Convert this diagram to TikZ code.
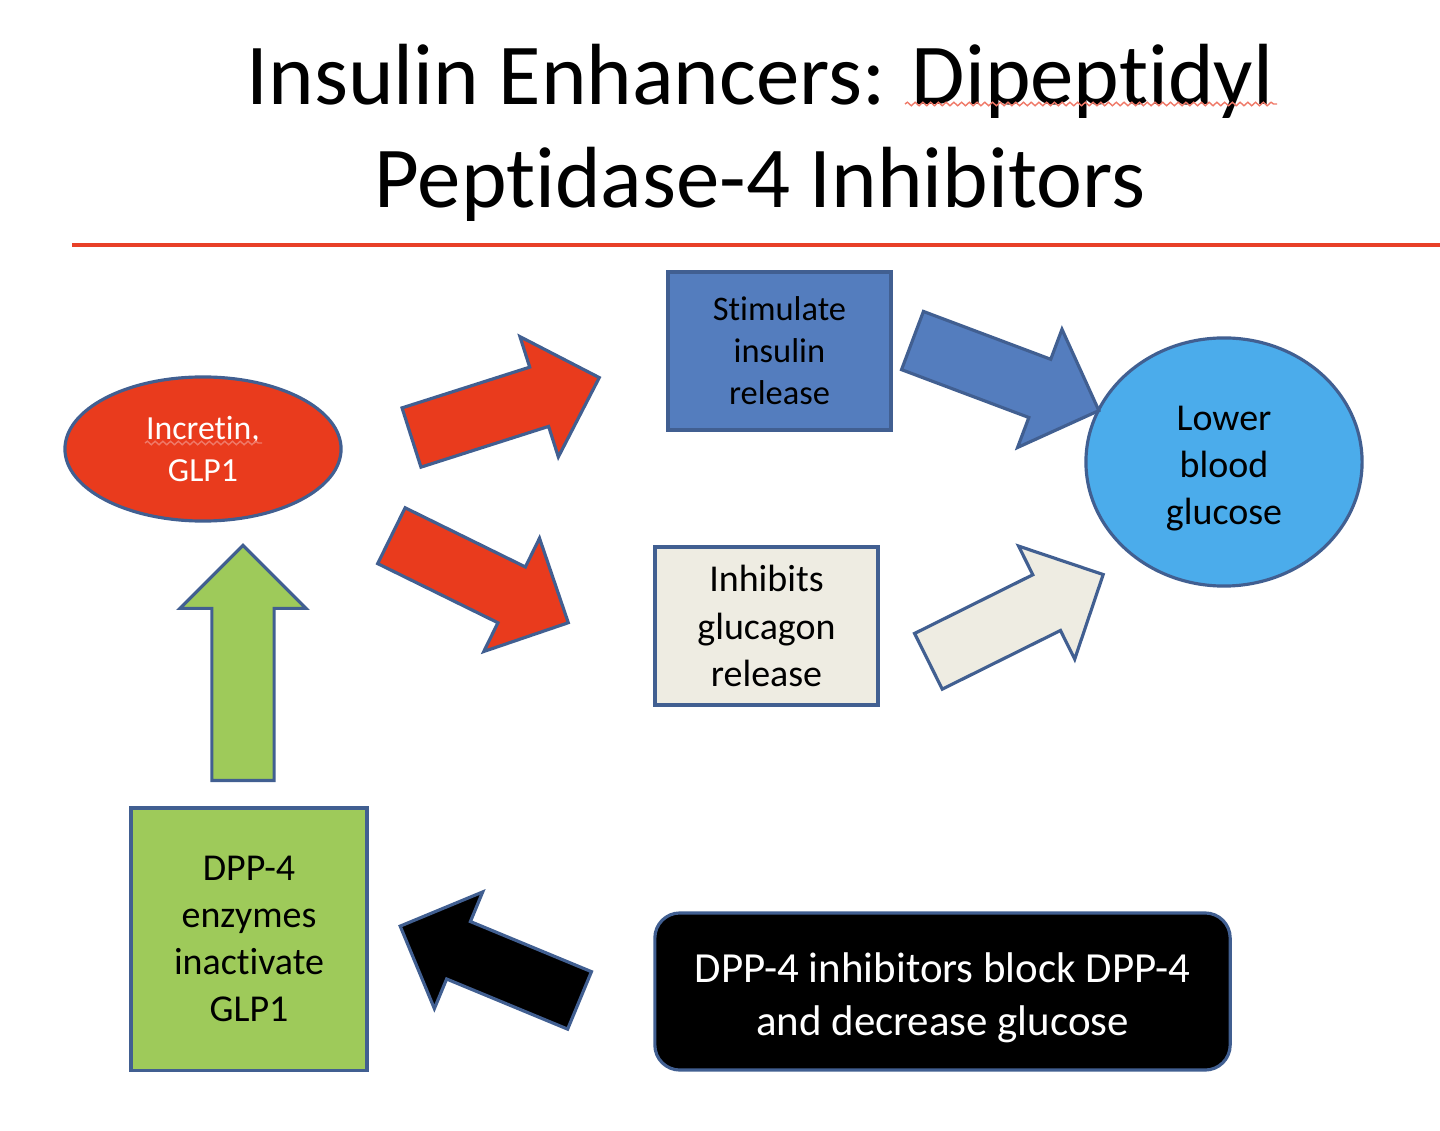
\documentclass[tikz,border=0pt]{standalone}
\usepackage{fontspec}
\setmainfont[RawFeature={-liga;-clig;-calt;-dlig}]{Carlito}
\usetikzlibrary{shapes.geometric,shapes.arrows,decorations.pathmorphing,positioning}
\definecolor{incred}{RGB}{233,59,29}
\definecolor{edgeblue}{RGB}{65,95,145}
\definecolor{stimblue}{RGB}{84,125,190}
\definecolor{glucbeige}{RGB}{238,236,226}
\definecolor{lowblue}{RGB}{75,172,235}
\definecolor{dppgreen}{RGB}{158,202,90}
\definecolor{rulered}{RGB}{232,64,40}
\tikzset{
  basebox/.style={draw=edgeblue,line width=0.9pt,align=center,inner sep=0pt},
  incnode/.style={basebox,ellipse,fill=incred,text=white,minimum width=2.76cm,minimum height=1.44cm,font=\fontsize{9.6}{11.7}\selectfont},
  stimnode/.style={basebox,rectangle,fill=stimblue,minimum width=2.23cm,minimum height=1.58cm,font=\fontsize{9.8}{11.9}\selectfont},
  inhnode/.style={basebox,rectangle,fill=glucbeige,minimum width=2.23cm,minimum height=1.58cm,font=\fontsize{10.8}{13.4}\selectfont},
  lownode/.style={basebox,ellipse,fill=lowblue,minimum width=2.76cm,minimum height=2.48cm,font=\fontsize{10.8}{13.4}\selectfont},
  dppnode/.style={basebox,rectangle,fill=dppgreen,minimum width=2.36cm,minimum height=2.62cm,font=\fontsize{10.8}{13.4}\selectfont},
  blocknode/.style={basebox,rectangle,rounded corners=0.25cm,fill=black,text=white,minimum width=5.75cm,minimum height=1.57cm,font=\fontsize{12.2}{15}\selectfont},
  blockarr/.style={single arrow,draw=edgeblue,line width=0.9pt,inner xsep=0pt,inner ysep=0.295cm,
    single arrow head extend=0.32cm,minimum width=0pt,anchor=tail},
  spellerr/.style={draw=rulered!70,line width=0.4pt,decorate,decoration={snake,amplitude=0.5pt,segment length=2.2pt}}
}

\begin{document}
\begin{tikzpicture}[x=0.01cm,y=-0.01cm]
  \useasboundingbox (0,0) rectangle (1440,1131);
  % title and rule
  \node[align=center,inner sep=0pt,font=\fontsize{24.7}{29.2}\selectfont] (title) at (760,133)
    {Insulin Enhancers: Dipeptidyl\\Peptidase-4 Inhibitors};
  \draw[spellerr] (905,104) -- (1277,104);
  \draw[rulered,line width=1.2pt] (72,245) -- (1440,245);

  % nodes
  \node[incnode] (incretin) at (203,449) {Incretin,\\GLP1};
  \draw[spellerr] (145,443) -- (262,443);
  \node[stimnode] (stim) at (779.5,351) {Stimulate\\insulin\\release};
  \node[inhnode] (inhib) at (766.5,626) {Inhibits\\glucagon\\release};
  \node[lownode] (lower) at (1224,462) {\rule{0pt}{10.5pt}Lower\\blood\\glucose};
  \node[dppnode] (dpp) at (249,939) {DPP-4\\enzymes\\inactivate\\GLP1};
  \node[blocknode] (block) at (942.5,991.5) {\rule{0pt}{12pt}DPP-4 inhibitors block DPP-4\\and decrease glucose};

  % block arrows
  \node[blockarr,fill=incred,minimum height=1.97cm,rotate=17.7] (toStim) at (410,438) {};
  \node[blockarr,fill=incred,minimum height=1.97cm,rotate=-26.2] (toInhib) at (390,535) {};
  \node[blockarr,fill=stimblue,minimum height=1.99cm,rotate=-20.6] (stimLow) at (911,340) {};
  \node[blockarr,fill=glucbeige,minimum height=1.95cm,rotate=26.4] (inhibLow) at (927,662) {};
  \node[blockarr,fill=dppgreen,minimum height=2.35cm,rotate=90] (dppInc) at (243,782) {};
  \node[blockarr,fill=black,minimum height=1.94cm,rotate=157.5] (blockDpp) at (581,1001) {};
\end{tikzpicture}
\end{document}
